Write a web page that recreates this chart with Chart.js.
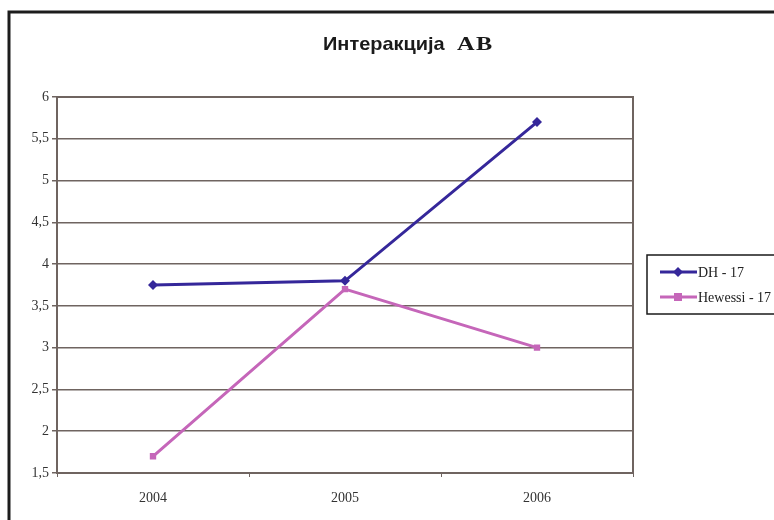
<!DOCTYPE html>
<html>
<head>
<meta charset="utf-8">
<script src="https://cdn.jsdelivr.net/npm/chart.js@4/dist/chart.umd.min.js"></script>
<style>
  html, body { margin: 0; padding: 0; background: #ffffff; }
  #wrap { width: 774px; height: 520px; position: relative; }
</style>
</head>
<body>
<div id="wrap"><canvas id="c" width="774" height="520"></canvas></div>
<script>
const categories = ['2004', '2005', '2006'];
const dhValues = [3.75, 3.8, 5.7];
const hewessiValues = [1.7, 3.7, 3.0];
const seriesLabels = ['DH - 17', 'Hewessi - 17'];
const titleMain = 'Интеракција';
const titleTail = 'AB';

const DH_COLOR = '#35279a';
const HW_COLOR = '#c566b9';
const GRID = '#6f6460';
const SERIF = '"Liberation Serif", "Times New Roman", serif';

const framePlugin = {
  id: 'frame',
  beforeDraw(chart) {
    const ctx = chart.ctx;
    ctx.save();
    ctx.fillStyle = '#ffffff';
    ctx.fillRect(0, 0, chart.width, chart.height);
    ctx.strokeStyle = '#1c1c1c';
    ctx.lineWidth = 3;
    ctx.beginPath();
    ctx.moveTo(9, 520);
    ctx.lineTo(9, 12);
    ctx.lineTo(774, 12);
    ctx.stroke();
    ctx.restore();
  },
  afterDraw(chart) {
    const ctx = chart.ctx;
    const a = chart.chartArea;
    ctx.save();
    // plot border
    ctx.strokeStyle = GRID;
    ctx.lineWidth = 2;
    ctx.strokeRect(a.left, a.top, a.right - a.left, a.bottom - a.top);
    // title (two fonts, as in the original)
    ctx.fillStyle = '#1a1a1a';
    ctx.textBaseline = 'alphabetic';
    ctx.textAlign = 'left';
    ctx.save();
    ctx.translate(323, 50);
    ctx.scale(1.05, 1);
    ctx.font = 'bold 19px "Liberation Sans", Arial, sans-serif';
    ctx.fillText(titleMain, 0, 0);
    ctx.restore();
    ctx.save();
    ctx.translate(457, 50);
    ctx.scale(1.35, 1);
    ctx.font = 'bold 18px ' + SERIF;
    ctx.letterSpacing = '1px';
    ctx.fillText(titleTail, 0, 0);
    ctx.restore();
    // legend box
    ctx.strokeStyle = '#1a1a1a';
    ctx.lineWidth = 1.5;
    ctx.strokeRect(647, 255, 140, 59);
    const rows = [272, 297];
    chart.data.datasets.forEach((ds, i) => {
      const y = rows[i];
      ctx.strokeStyle = ds.borderColor;
      ctx.lineWidth = 3;
      ctx.beginPath(); ctx.moveTo(660, y); ctx.lineTo(697, y); ctx.stroke();
      ctx.fillStyle = ds.borderColor;
      const r = 4;
      ctx.beginPath();
      if (ds.pointStyle === 'rectRot') {
        ctx.moveTo(678, y - r - 1); ctx.lineTo(678 + r + 1, y); ctx.lineTo(678, y + r + 1); ctx.lineTo(678 - r - 1, y);
      } else {
        ctx.rect(678 - r, y - r, 2 * r, 2 * r);
      }
      ctx.closePath(); ctx.fill();
      ctx.fillStyle = '#222';
      ctx.font = '14px ' + SERIF;
      ctx.textAlign = 'left';
      ctx.textBaseline = 'middle';
      ctx.fillText(ds.label, 698, y + 1);
    });
    ctx.restore();
  }
};

new Chart(document.getElementById('c'), {
  type: 'line',
  data: {
    labels: categories,
    datasets: [
      {
        label: seriesLabels[0], data: dhValues,
        borderColor: DH_COLOR, backgroundColor: DH_COLOR,
        borderWidth: 3, pointStyle: 'rectRot', pointRadius: 5,
        pointBorderWidth: 0, tension: 0
      },
      {
        label: seriesLabels[1], data: hewessiValues,
        borderColor: HW_COLOR, backgroundColor: HW_COLOR,
        borderWidth: 3, pointStyle: 'rect', pointRadius: 4.5,
        pointBorderWidth: 0, tension: 0
      }
    ]
  },
  options: {
    responsive: false,
    animation: false,
    devicePixelRatio: 1,
    layout: { padding: { left: 8, top: 97, right: 141, bottom: 0 } },
    plugins: { legend: { display: false }, title: { display: false }, tooltip: { enabled: false } },
    scales: {
      x: {
        offset: true,
        grid: { offset: true, drawOnChartArea: false, drawTicks: true, tickLength: 4, color: GRID, lineWidth: 1 },
        border: { display: false },
        ticks: { color: '#333', padding: 13, font: { family: SERIF, size: 14 } },
        afterFit(s) { s.height = 47; }
      },
      y: {
        min: 1.5, max: 6,
        grid: { color: GRID, lineWidth: 1.5, drawTicks: true, tickLength: 5 },
        border: { display: false },
        ticks: {
          stepSize: 0.5, color: '#333', padding: 3,
          font: { family: SERIF, size: 14 },
          callback: v => String(v).replace('.', ',')
        },
        afterFit(s) { s.width = 49; }
      }
    }
  },
  plugins: [framePlugin]
});
</script>
</body>
</html>
